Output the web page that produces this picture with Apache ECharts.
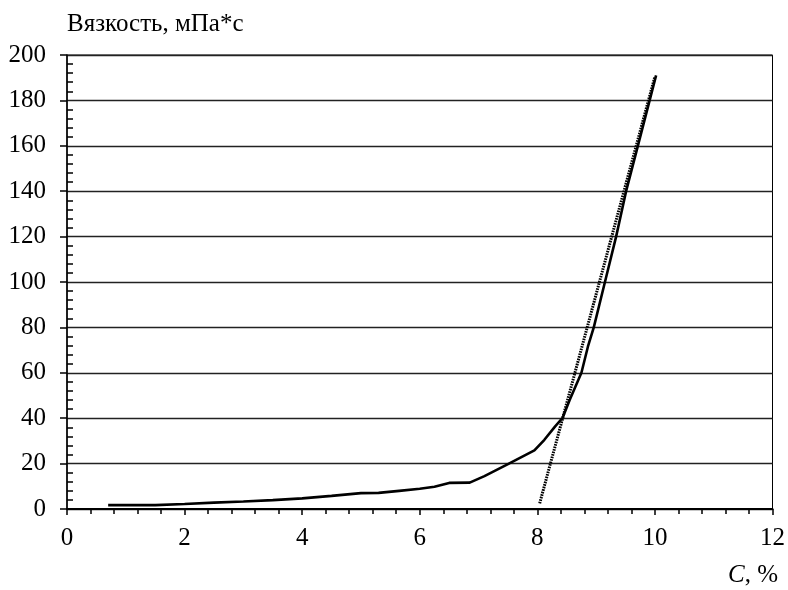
<!DOCTYPE html>
<html><head><meta charset="utf-8">
<script src="https://cdn.jsdelivr.net/npm/echarts@6/dist/echarts.min.js"></script>
<style>html,body{margin:0;padding:0;background:#fff}#c{width:788px;height:590px}</style>
</head><body><div id="c"></div>
<script>
const concentration = [0.7, 1.0, 1.5, 2.0, 2.5, 3.0, 3.5, 4.0, 4.5, 5.0, 5.3, 5.65, 6.0, 6.25, 6.5, 6.85, 7.1, 7.5, 7.95, 8.12, 8.3, 8.43, 8.55, 8.75, 8.86, 8.96, 9.15, 9.34, 9.51, 9.71, 9.91, 10.02];
const viscosity = [1.7, 1.7, 1.7, 2.2, 2.8, 3.3, 3.9, 4.7, 5.8, 7.0, 7.1, 8.0, 8.9, 9.8, 11.5, 11.6, 14.5, 19.8, 25.8, 30.5, 36.3, 40.2, 48, 60, 71.5, 80, 100, 120, 140, 160, 180, 191];
const trendX = [8.04, 10.0];
const trendY = [2.5, 190.5];
const yTitle = 'Вязкость, мПа*с';
const xTitle = '{i|C}, %';

const FONT = '"Liberation Serif", "Times New Roman", serif';
const FS = 25;
const chart = echarts.init(document.getElementById('c'), null, {renderer: 'canvas'});
chart.setOption({
  animation: false,
  backgroundColor: '#fff',
  title: {
    text: yTitle, left: 62, top: 7,
    textStyle: {fontFamily: FONT, fontSize: FS, fontWeight: 'normal', color: '#000'}
  },
  graphic: [{
    type: 'text', right: 10, top: 563,
    style: {
      text: xTitle, fontFamily: FONT, fontSize: FS, fill: '#000',
      rich: {i: {fontStyle: 'italic', fontFamily: FONT, fontSize: FS}}
    }
  }],
  grid: {left: 67, right: 15, top: 55, bottom: 81, show: true, borderColor: '#000', borderWidth: 1, backgroundColor: 'transparent'},
  xAxis: {
    type: 'value', min: 0, max: 12, interval: 2,
    axisLine: {show: true, onZero: false, lineStyle: {color: '#000', width: 2}},
    axisTick: {show: true, inside: false, length: 6, lineStyle: {color: '#000', width: 1.5}},
    minorTick: {show: true, splitNumber: 5, length: 5, lineStyle: {color: '#000', width: 1.5}},
    axisLabel: {margin: 17, fontFamily: FONT, fontSize: FS, color: '#000'},
    splitLine: {show: false}
  },
  yAxis: {
    type: 'value', min: 0, max: 200, interval: 20,
    axisLine: {show: true, lineStyle: {color: '#000', width: 1.5}},
    axisTick: {show: true, inside: false, length: 7, lineStyle: {color: '#000', width: 1.5}},
    minorTick: {show: true, splitNumber: 5, length: -6, lineStyle: {color: '#000', width: 1.5}},
    axisLabel: {margin: 21, fontFamily: FONT, fontSize: FS, color: '#000'},
    splitLine: {show: true, lineStyle: {color: '#222', width: 1.3}}
  },
  series: [
    {
      type: 'line', data: concentration.map((x, i) => [x, viscosity[i]]),
      showSymbol: false, symbol: 'none', smooth: false,
      lineStyle: {color: '#000', width: 2.6}, z: 3
    },
    {
      type: 'line', data: trendX.map((x, i) => [x, trendY[i]]),
      showSymbol: false, symbol: 'none',
      lineStyle: {color: '#000', width: 3, type: [1.6, 1]}, z: 2
    }
  ]
});
</script></body></html>
